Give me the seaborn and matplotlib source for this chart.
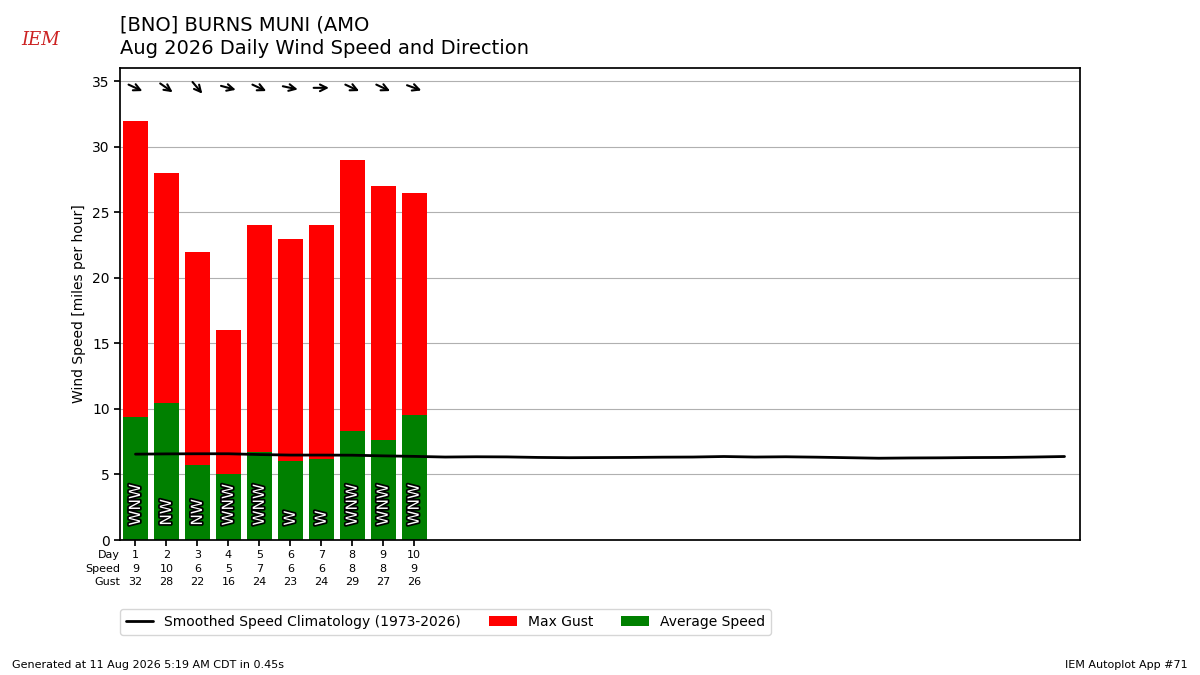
import matplotlib
matplotlib.use("Agg")
import matplotlib.pyplot as plt
import matplotlib.patheffects as pe
import matplotlib.transforms as mtrans
import numpy as np
import seaborn as sns
import pandas as pd

days = list(range(1, 11))
avg_speed = [9.35, 10.45, 5.75, 5.0, 6.75, 6.0, 6.2, 8.35, 7.6, 9.5]
max_gust = [32, 28, 22, 16, 24, 23, 24, 29, 27, 26.5]
speed_lbl = [9, 10, 6, 5, 7, 6, 6, 8, 8, 9]
gust_lbl = [32, 28, 22, 16, 24, 23, 24, 29, 27, 26]
dir_txt = ["WNW", "NW", "NW", "WNW", "WNW", "W", "W", "WNW", "WNW", "WNW"]
arrow_ang = [-25, -35, -50, -15, -25, -12, 0, -25, -25, -20]
clim_days = list(range(1, 32))
clim = [6.55, 6.57, 6.58, 6.58, 6.52, 6.48, 6.48, 6.47, 6.42, 6.38, 6.33, 6.35, 6.34, 6.30, 6.28,
        6.29, 6.30, 6.32, 6.33, 6.37, 6.33, 6.35, 6.32, 6.28, 6.24, 6.26, 6.27, 6.29, 6.30, 6.33, 6.37]

sns.set_theme(style="white")
plt.rcParams['font.family'] = ['DejaVu Sans']
plt.rcParams['text.color'] = 'black'
plt.rcParams['axes.labelcolor'] = 'black'
plt.rcParams['xtick.color'] = 'black'
plt.rcParams['ytick.color'] = 'black'
fig = plt.figure(figsize=(12, 6.75), dpi=100)
ax = fig.add_axes([0.1, 0.2, 0.8, 0.699])

df = pd.DataFrame({"day": days, "gust": max_gust, "avg": avg_speed})
ax.bar(df.day, df.gust, width=0.8, color="red", linewidth=0, label="Max Gust", zorder=2)
ax.bar(df.day, df.avg, width=0.8, color="green", linewidth=0, label="Average Speed", zorder=2)
sns.lineplot(x=clim_days, y=clim, ax=ax, color="black", lw=2, zorder=3,
             label="Smoothed Speed Climatology (1973-2026)")

for d, t in zip(days, dir_txt):
    ax.text(d, 1.1, t, rotation=90, ha="center", va="bottom", color="white", fontsize=11,
            zorder=4, path_effects=[pe.withStroke(linewidth=2.5, foreground="black")])
L = 11
for d, a in zip(days, arrow_ang):
    r = np.deg2rad(a)
    dx, dy = L * np.cos(r), L * np.sin(r)
    head = mtrans.offset_copy(ax.transData, fig=fig, x=dx / 2, y=dy / 2, units="points")
    ax.annotate("", xy=(d, 34.5), xycoords=head,
                xytext=(-dx, -dy), textcoords="offset points",
                arrowprops=dict(arrowstyle="->", color="black", lw=1.5, shrinkA=0, shrinkB=0),
                annotation_clip=False)
ax.set_xlim(0.5, 31.5)
ax.set_ylim(0, 36)
ax.set_yticks(range(0, 36, 5))
ax.yaxis.grid(True, color="#b0b0b0", lw=0.8)
ax.set_axisbelow(True)
ax.set_xticks(days)
ax.set_xticklabels([])
ax.tick_params(axis="both", length=4, left=True, bottom=True, labelsize=10)
for s in ax.spines.values():
    s.set_color("black")
ax.set_ylabel("Wind Speed [miles per hour]", fontsize=10)

tr = mtrans.blended_transform_factory(ax.transData, fig.transFigure)
rows = [("Day", days, 555), ("Speed", speed_lbl, 569), ("Gust", gust_lbl, 582)]
for name, vals, ypx in rows:
    yf = 1 - ypx / 675
    fig.text(0.1, yf, name, ha="right", va="center", fontsize=8)
    for d, v in zip(days, vals):
        ax.text(d, yf, str(v), transform=tr, ha="center", va="center", fontsize=8)

h, l = ax.get_legend_handles_labels()
order = [l.index("Smoothed Speed Climatology (1973-2026)"), l.index("Max Gust"), l.index("Average Speed")]
ax.legend([h[i] for i in order], [l[i] for i in order], ncol=3, loc="center left",
          bbox_to_anchor=(0.1, 1 - 622 / 675), bbox_transform=fig.transFigure, fontsize=10,
          borderaxespad=0, frameon=True, edgecolor="#cccccc")

fig.text(0.1, 1 - 25 / 675, "[BNO] BURNS MUNI (AMO", fontsize=14, va="center")
fig.text(0.1, 1 - 48 / 675, "Aug 2026 Daily Wind Speed and Direction", fontsize=14, va="center")
fig.text(0.01, 1 - 665 / 675, "Generated at 11 Aug 2026 5:19 AM CDT in 0.45s", fontsize=8, va="center")
fig.text(0.99, 1 - 665 / 675, "IEM Autoplot App #71", fontsize=8, va="center", ha="right")
fig.text(0.018, 1 - 45 / 675, "IEM", fontsize=13, color="#cc2222", style="italic", family="DejaVu Serif")
fig.savefig("out.png", dpi=100)
